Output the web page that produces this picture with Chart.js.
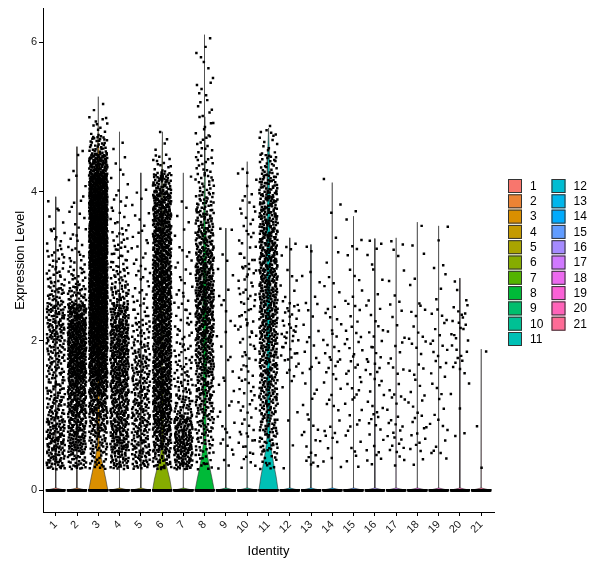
<!DOCTYPE html>
<html>
<head>
<meta charset="utf-8">
<script src="https://cdn.jsdelivr.net/npm/chart.js@4.4.0/dist/chart.umd.min.js"></script>
<style>
  html, body { margin: 0; padding: 0; background: #fff; }
  #wrap { width: 600px; height: 568px; }
</style>
</head>
<body>
<div id="wrap"><canvas id="vlnChart" width="600" height="568"></canvas></div>
<script>
// --- data ---
const identities = ['1', '2', '3', '4', '5', '6', '7', '8', '9', '10', '11',
  '12', '13', '14', '15', '16', '17', '18', '19', '20', '21'];

// expression bins (lowest non-zero value is ~0.28), 0.25 wide
const binEdges = [0.28, 0.5, 0.75, 1, 1.25, 1.5, 1.75, 2, 2.25, 2.5, 2.75, 3, 3.25,
  3.5, 3.75, 4, 4.25, 4.5, 4.75, 5, 5.25, 5.5, 5.75, 6, 6.25];

// number of cells per bin, one row per identity
const cellCounts = [
  [40, 52, 48, 34, 30, 30, 34, 44, 44, 27, 19, 13, 8, 4, 2],
  [32, 60, 60, 72, 80, 100, 115, 105, 80, 32, 18, 10, 7, 5, 4, 3, 2, 1],
  [20, 35, 50, 65, 85, 110, 130, 150, 160, 170, 170, 170, 170, 170, 165, 150, 90, 35, 12, 2],
  [40, 60, 60, 60, 68, 75, 80, 75, 60, 32, 22, 15, 12, 8, 6, 4, 3, 2],
  [32, 40, 40, 40, 38, 36, 28, 20, 13, 9, 7, 6, 6, 4, 3, 1],
  [32, 60, 75, 82, 88, 90, 95, 95, 95, 95, 95, 90, 90, 88, 85, 55, 15, 3, 1],
  [52, 72, 60, 33, 24, 18, 13, 10, 9, 7, 6, 5, 3, 2, 2, 1],
  [15, 22, 28, 36, 42, 50, 55, 62, 68, 72, 68, 58, 48, 38, 28, 18, 13, 10, 7, 6, 5, 3, 3, 1],
  [4, 5, 5, 3, 3, 3, 2, 3, 3, 3, 2, 2, 1, 1],
  [6, 8, 7, 7, 8, 7, 8, 9, 9, 10, 10, 8, 7, 6, 6, 3, 2],
  [13, 26, 32, 38, 42, 45, 48, 52, 55, 58, 58, 58, 58, 55, 50, 38, 22, 10, 4, 1],
  [1, 1, 1, 1, 2, 6, 10, 12, 10, 5, 3, 2, 2],
  [6, 5, 4, 3, 3, 4, 4, 3, 3, 2, 3, 1, 1],
  [3, 4, 4, 4, 4, 6, 6, 5, 5, 2, 2, 2, 1, 1, 1, 0, 1],
  [3, 4, 4, 5, 5, 6, 6, 5, 5, 3, 3, 2, 2, 1, 1],
  [4, 5, 5, 5, 5, 6, 6, 4, 4, 2, 2, 3, 2],
  [3, 8, 7, 4, 4, 4, 4, 3, 3, 2, 2, 2, 2],
  [2, 6, 6, 4, 4, 4, 4, 4, 4, 2, 1, 1, 1, 1],
  [2, 4, 4, 3, 3, 5, 5, 4, 4, 2, 2, 1, 1, 1],
  [0, 1, 1, 1, 2, 5, 5, 8, 7, 2, 1],
  [1, 0, 1, 0, 0, 0, 1],
];

// cells with zero expression
const zeroCounts = [60, 60, 60, 60, 60, 60, 60, 60, 60, 60, 60,
  60, 60, 60, 60, 60, 60, 60, 60, 60, 60];

// highest expression per identity (top of violin)
const maxLevels = [3.93, 4.6, 5.27, 4.8, 4.25, 4.8, 4.25, 6.1, 3.51, 4.4, 4.85,
  3.38, 3.29, 4.12, 3.67, 3.37, 3.38, 3.59, 3.54, 2.84, 1.89];

// violin half-widths [level, half width] for identities with a visible body
const violinProfiles = {
  3: [[0, 0.45], [0.15, 0.35], [0.3, 0.24], [0.45, 0.13], [0.6, 0.06], [1, 0.045],
    [2.5, 0.05], [4, 0.05], [4.6, 0.03], [5.0, 0.012], [5.27, 0.004]],
  6: [[0, 0.45], [0.15, 0.36], [0.3, 0.23], [0.45, 0.1], [0.58, 0.05], [1.5, 0.04],
    [3.5, 0.04], [4.2, 0.02], [4.8, 0.004]],
  8: [[0, 0.45], [0.15, 0.35], [0.3, 0.24], [0.45, 0.14], [0.62, 0.06], [1.5, 0.07],
    [2.5, 0.09], [3.5, 0.06], [4.2, 0.025], [5, 0.008], [6.1, 0.004]],
  11: [[0, 0.45], [0.18, 0.36], [0.36, 0.24], [0.55, 0.13], [0.72, 0.07], [1.5, 0.07],
    [3, 0.08], [4, 0.06], [4.5, 0.04], [4.85, 0.004]],
};

// --- helpers ---
function hcl(h, c, l) {
  const hr = (h * Math.PI) / 180;
  const u = c * Math.cos(hr);
  const v = c * Math.sin(hr);
  const Y = l > 8 ? Math.pow((l + 16) / 116, 3) : l / 903.3;
  const Xn = 0.95047, Yn = 1, Zn = 1.08883;
  const un = (4 * Xn) / (Xn + 15 * Yn + 3 * Zn);
  const vn = (9 * Yn) / (Xn + 15 * Yn + 3 * Zn);
  const up = u / (13 * l) + un;
  const vp = v / (13 * l) + vn;
  const X = (Y * 9 * up) / (4 * vp);
  const Z = (Y * (12 - 3 * up - 20 * vp)) / (4 * vp);
  const lin = [
    3.2404542 * X - 1.5371385 * Y - 0.4985314 * Z,
    -0.969266 * X + 1.8760108 * Y + 0.041556 * Z,
    0.0556434 * X - 0.2040259 * Y + 1.0572252 * Z,
  ];
  const out = lin.map((ch) => {
    const g = ch <= 0.0031308 ? 12.92 * ch : 1.055 * Math.pow(ch, 1 / 2.4) - 0.055;
    return Math.round(Math.min(1, Math.max(0, g)) * 255);
  });
  return `rgb(${out[0]}, ${out[1]}, ${out[2]})`;
}

const colors = identities.map((_, i) => hcl(15 + (i * 360) / identities.length, 100, 65));

// even (Halton) spread of cells inside each bin, standing in for the jitter
const JITTER = 0.86;
function halton(n, base) {
  let f = 1, r = 0;
  while (n > 0) {
    f /= base;
    r += f * (n % base);
    n = Math.floor(n / base);
  }
  return r;
}

function buildPoints() {
  const pts = [];
  identities.forEach((id, i) => {
    const k = i + 1;
    let n = 1 + i * 37;
    for (let z = 0; z < zeroCounts[i]; z++, n++) {
      pts.push({ x: k + (halton(n, 2) - 0.5) * JITTER, y: 0 });
    }
    cellCounts[i].forEach((count, b) => {
      const lo = binEdges[b];
      const hi = Math.min(binEdges[b + 1], maxLevels[i]);
      for (let c = 0; c < count; c++, n++) {
        pts.push({
          x: k + (halton(n, 2) - 0.5) * JITTER,
          y: lo + halton(n, 3) * (hi - lo),
        });
      }
    });
  });
  return pts;
}

function violinOutline(i) {
  const k = i + 1;
  const prof = violinProfiles[k] || [[0, 0.45], [0.03, 0.012], [maxLevels[i], 0.004]];
  const right = prof.map(([y, h]) => ({ x: k + h, y }));
  const left = prof.slice().reverse().map(([y, h]) => ({ x: k - h, y }));
  const ring = right.concat(left);
  ring.push(right[0]);
  return ring;
}

document.addEventListener('DOMContentLoaded', () => {
  Chart.defaults.font.family = '"Liberation Sans", Arial, sans-serif';
  Chart.defaults.color = '#000';

  const violinSets = identities.map((id, i) => ({
    label: id,
    data: violinOutline(i),
    showLine: true,
    fill: 'shape',
    backgroundColor: colors[i],
    borderColor: '#333',
    borderWidth: 0.6,
    pointRadius: 0,
    tension: 0,
    order: 2,
  }));

  const legendPlugin = {
    id: 'identityLegend',
    afterDraw(chart) {
      const ctx = chart.ctx;
      ctx.save();
      ctx.font = '12px "Liberation Sans", Arial, sans-serif';
      ctx.textBaseline = 'middle';
      ctx.textAlign = 'left';
      identities.forEach((name, i) => {
        const col = i < 11 ? 0 : 1;
        const row = col ? i - 11 : i;
        const x = 508 + col * 43.5;
        const y = 179 + row * 15.3;
        ctx.fillStyle = colors[i];
        ctx.fillRect(x, y, 14, 14);
        ctx.strokeStyle = '#333';
        ctx.lineWidth = 1;
        ctx.strokeRect(x + 0.5, y + 0.5, 13, 13);
        ctx.fillStyle = '#000';
        ctx.fillText(name, x + 22, y + 7.5);
      });
      ctx.restore();
    },
  };

  const ctx = document.getElementById('vlnChart').getContext('2d');
  new Chart(ctx, {
    type: 'scatter',
    data: {
      datasets: [
        {
          label: 'cells',
          data: buildPoints(),
          pointStyle: 'rect',
          pointRadius: 1.75,
          pointBorderWidth: 0,
          backgroundColor: '#000',
          borderWidth: 0,
          order: 0,
        },
        ...violinSets,
      ],
    },
    options: {
      responsive: false,
      animation: false,
      devicePixelRatio: 1,
      layout: { padding: { top: 2, right: 106, left: 0, bottom: 0 } },
      scales: {
        x: {
          type: 'linear',
          min: 0.4,
          max: 21.6,
          afterBuildTicks: (s) => {
            s.ticks = identities.map((_, i) => ({ value: i + 1 }));
          },
          afterFit: (s) => {
            s.height = 56;
          },
          ticks: {
            autoSkip: false,
            minRotation: 45,
            maxRotation: 45,
            padding: 2,
            font: { size: 11 },
            color: '#1a1a1a',
            callback: (v) => identities[Math.round(v) - 1],
          },
          grid: { drawOnChartArea: false, drawTicks: true, tickLength: 4, color: '#000' },
          border: { display: true, color: '#000', width: 1 },
          title: {
            display: true,
            text: 'Identity',
            font: { size: 13 },
            color: '#000',
            padding: { top: 0, bottom: 9 },
          },
        },
        y: {
          min: -0.291,
          max: 6.449,
          afterBuildTicks: (s) => {
            s.ticks = [0, 2, 4, 6].map((v) => ({ value: v }));
          },
          afterFit: (s) => {
            s.width = 43;
          },
          ticks: { padding: 2, font: { size: 11 }, color: '#1a1a1a' },
          grid: { drawOnChartArea: false, drawTicks: true, tickLength: 4, color: '#000' },
          border: { display: true, color: '#000', width: 1 },
          title: {
            display: true,
            text: 'Expression Level',
            font: { size: 13 },
            color: '#000',
            padding: { top: 13, bottom: 0 },
          },
        },
      },
      plugins: {
        legend: { display: false },
        tooltip: { enabled: false },
      },
    },
    plugins: [legendPlugin],
  });
});
</script>
</body>
</html>
